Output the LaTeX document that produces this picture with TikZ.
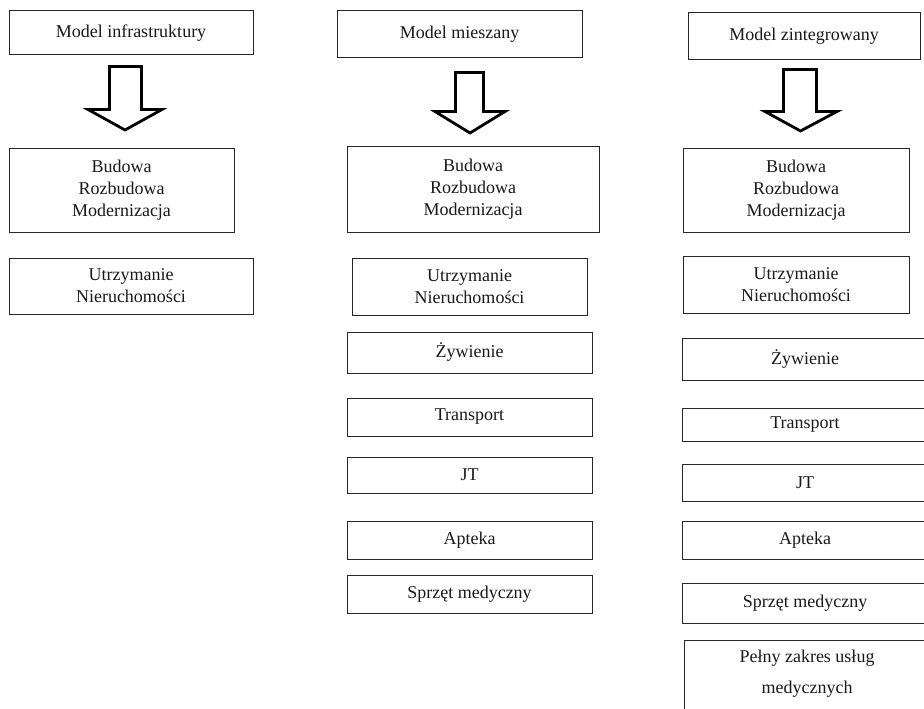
\documentclass[tikz,border=0pt]{standalone}
\usepackage{fontspec}
\setmainfont{Liberation Serif}
\tikzset{
  box/.style={draw=black!85, line width=1pt, inner sep=0pt, align=center,
    font=\fontsize{18}{22}\selectfont, text=black!90},
  blockarrow/.style={draw=black, line width=2.8pt, line join=miter, fill=white},
  plaintext/.style={inner sep=0pt, align=center, font=\fontsize{18}{31}\selectfont, text=black!90}
}
\newcommand\mybox[6]{%
  \node[box, minimum width={(#4-#2)*1pt}, minimum height={(#5-#3)*1pt}]
    (#1) at ({(#2+#4)/2},{(#3+#5)/2}) {#6};}
\begin{document}
\begin{tikzpicture}[x=1pt,y=-1pt]
\useasboundingbox (0,0) rectangle (924,709);
\clip (0,0) rectangle (924,709);
\fill[white] (0,0) rectangle (924,709);
% column 1
\mybox{h1}{9}{11}{253}{55}{Model infrastruktury}
\mybox{b1}{9}{148}{234}{232}{Budowa\\Rozbudowa\\Modernizacja}
\mybox{u1}{9}{258}{253}{314}{Utrzymanie\\Nieruchomości}
% column 2
\mybox{h2}{337}{11}{582}{58}{Model mieszany}
\mybox{b2}{347}{146}{599}{232}{Budowa\\Rozbudowa\\Modernizacja}
\mybox{u2}{352}{258}{587}{315}{Utrzymanie\\Nieruchomości}
\mybox{z2}{347}{332}{592}{373}{Żywienie}
\mybox{t2}{347}{398}{592}{436}{Transport}
\mybox{j2}{347}{457}{592}{493}{JT}
\mybox{a2}{347}{521}{592}{559}{Apteka}
\mybox{s2}{347}{575}{592}{613}{Sprzęt medyczny}
% column 3
\mybox{h3}{688}{13}{920}{60}{Model zintegrowany}
\mybox{b3}{683}{148}{909}{232}{Budowa\\Rozbudowa\\Modernizacja}
\mybox{u3}{683}{256}{909}{313}{Utrzymanie\\Nieruchomości}
\mybox{z3}{682}{338}{928}{380}{Żywienie}
\mybox{t3}{682}{408}{928}{441}{Transport}
\mybox{j3}{682}{464}{928}{501}{JT}
\mybox{a3}{682}{521}{928}{559}{Apteka}
\mybox{s3}{682}{583}{928}{623}{Sprzęt medyczny}
\mybox{p3}{684}{640}{930}{780}{}
\node[plaintext, anchor=north] (p3t) at (807,650) {Pełny zakres usług\\medycznych};
% block arrows
\draw[blockarrow] (109.5,66.5) -- (141.5,66.5) -- (141.5,109.5) -- (162,109.5)
  -- (125,130) -- (88,109.5) -- (109.5,109.5) -- cycle;
\draw[blockarrow] (455.5,72.5) -- (483.5,72.5) -- (483.5,111.5) -- (505,111.5)
  -- (470,133) -- (435,111.5) -- (455.5,111.5) -- cycle;
\draw[blockarrow] (783.5,69.5) -- (816.5,69.5) -- (816.5,111.5) -- (837,111.5)
  -- (800.5,131) -- (765,111.5) -- (783.5,111.5) -- cycle;
\end{tikzpicture}
\end{document}
